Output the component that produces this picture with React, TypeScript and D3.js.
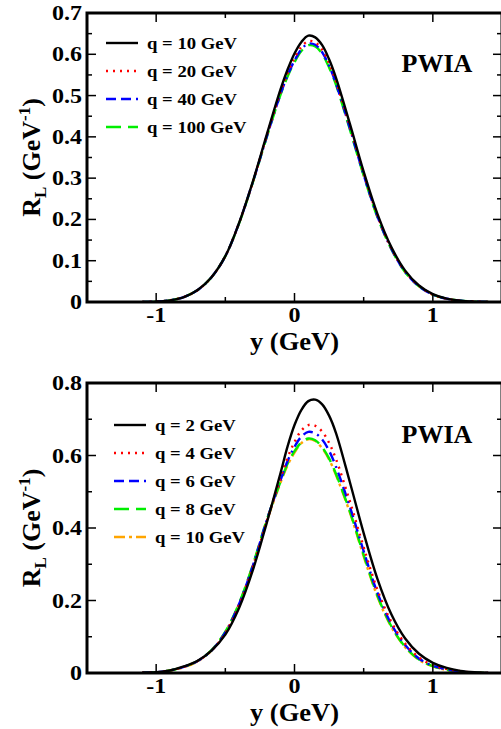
import React from "react";
import * as d3 from "d3";

// ---------- DATA ----------
const yGrid = [-1.1, -1.0, -0.9, -0.8, -0.7, -0.6, -0.5, -0.4, -0.3, -0.2, -0.1, -0.05, 0, 0.05, 0.1, 0.15, 0.2, 0.25, 0.3, 0.4, 0.5, 0.6, 0.7, 0.8, 0.9, 1.0, 1.1, 1.2, 1.3, 1.4];

// top panel (q = 10, 20, 40, 100 GeV)
const topQ10 = [0, 0.001, 0.004, 0.012, 0.029, 0.060, 0.111, 0.192, 0.293, 0.406, 0.516, 0.563, 0.602, 0.630, 0.645, 0.641, 0.622, 0.588, 0.543, 0.432, 0.316, 0.213, 0.133, 0.076, 0.040, 0.019, 0.008, 0.003, 0.001, 0];
const topQ20 = [0, 0.001, 0.004, 0.012, 0.029, 0.060, 0.111, 0.192, 0.292, 0.403, 0.509, 0.554, 0.591, 0.618, 0.632, 0.629, 0.611, 0.578, 0.534, 0.425, 0.311, 0.209, 0.130, 0.074, 0.039, 0.018, 0.008, 0.003, 0.001, 0];
const topQ40 = [0, 0.001, 0.004, 0.012, 0.029, 0.060, 0.111, 0.192, 0.292, 0.401, 0.505, 0.549, 0.585, 0.612, 0.626, 0.623, 0.605, 0.572, 0.529, 0.421, 0.308, 0.207, 0.129, 0.073, 0.038, 0.018, 0.008, 0.003, 0.001, 0];
const topQ100 = [0, 0.001, 0.004, 0.012, 0.029, 0.060, 0.111, 0.191, 0.291, 0.400, 0.503, 0.546, 0.581, 0.608, 0.622, 0.619, 0.601, 0.568, 0.526, 0.418, 0.306, 0.205, 0.128, 0.072, 0.038, 0.018, 0.008, 0.003, 0.001, 0];

// bottom panel (q = 2, 4, 6, 8, 10 GeV)
const botQ2 = [0.001, 0.002, 0.007, 0.018, 0.034, 0.062, 0.106, 0.180, 0.285, 0.415, 0.553, 0.625, 0.684, 0.726, 0.750, 0.754, 0.741, 0.710, 0.662, 0.527, 0.386, 0.259, 0.162, 0.095, 0.053, 0.028, 0.014, 0.006, 0.002, 0];
const botQ4 = [0.001, 0.002, 0.007, 0.017, 0.033, 0.062, 0.110, 0.188, 0.294, 0.420, 0.538, 0.594, 0.637, 0.669, 0.684, 0.682, 0.666, 0.635, 0.590, 0.474, 0.347, 0.229, 0.141, 0.081, 0.043, 0.022, 0.011, 0.005, 0.001, 0];
const botQ6 = [0.001, 0.002, 0.007, 0.017, 0.033, 0.062, 0.112, 0.191, 0.297, 0.422, 0.533, 0.585, 0.624, 0.652, 0.665, 0.661, 0.644, 0.613, 0.569, 0.459, 0.336, 0.221, 0.135, 0.077, 0.040, 0.020, 0.010, 0.004, 0.001, 0];
const botQ8 = [0.001, 0.002, 0.007, 0.017, 0.033, 0.063, 0.114, 0.193, 0.300, 0.423, 0.529, 0.577, 0.612, 0.636, 0.647, 0.642, 0.623, 0.592, 0.549, 0.446, 0.326, 0.213, 0.129, 0.072, 0.037, 0.019, 0.009, 0.003, 0.001, 0];
const botQ10 = [0.001, 0.002, 0.007, 0.016, 0.032, 0.062, 0.113, 0.191, 0.297, 0.419, 0.526, 0.573, 0.608, 0.634, 0.645, 0.640, 0.620, 0.589, 0.546, 0.443, 0.322, 0.210, 0.127, 0.071, 0.036, 0.018, 0.008, 0.003, 0.001, 0];

const topLabels = ["q = 10 GeV", "q = 20 GeV", "q = 40 GeV", "q = 100 GeV"];
const botLabels = ["q = 2 GeV", "q = 4 GeV", "q = 6 GeV", "q = 8 GeV", "q = 10 GeV"];

const xTicks = [-1, 0, 1];
const xMinor = [-1.5, -0.5, 0.5, 1.5];
const topYTicks = [0, 0.1, 0.2, 0.3, 0.4, 0.5, 0.6, 0.7];
const topYMinor = [0.05, 0.15, 0.25, 0.35, 0.45, 0.55, 0.65];
const botYTicks = [0, 0.2, 0.4, 0.6, 0.8];
const botYMinor = [0.1, 0.3, 0.5, 0.7];

// ---------- STYLES ----------
const FONT = "'Liberation Serif', 'Times New Roman', serif";
type Style = { color: string; dash: string; width: number };
const topStyles: Style[] = [
  { color: "#000000", dash: "none", width: 2.4 },
  { color: "#ff0000", dash: "2,5", width: 2.4 },
  { color: "#0000ff", dash: "10,5,10,5,2,5", width: 2.4 },
  { color: "#00ee00", dash: "15,7", width: 2.4 },
];
const botStyles: Style[] = [
  { color: "#000000", dash: "none", width: 2.4 },
  { color: "#ff0000", dash: "2,5", width: 2.4 },
  { color: "#0000ff", dash: "10,5,10,5,2,5", width: 2.4 },
  { color: "#00ee00", dash: "15,7", width: 2.4 },
  { color: "#ffa500", dash: "11,4,3,4", width: 2.4 },
];

const T = (props: { x: number; y: number; sx?: number; size: number; anchor?: string; children: React.ReactNode }) => (
  <g transform={`translate(${props.x},${props.y}) scale(${props.sx ?? 1},1)`}>
    <text x={0} y={0} textAnchor={props.anchor ?? "start"} fontFamily={FONT} fontWeight="bold" fontSize={props.size}>
      {props.children}
    </text>
  </g>
);

type PanelProps = {
  id: string;
  top: number;
  bottom: number;
  yMax: number;
  yTicks: number[];
  yMinor: number[];
  series: number[][];
  labels: string[];
  styles: Style[];
  legendX: number;
  legendY: number;
  pwiaX: number;
  pwiaY: number;
  fmt: (v: number) => string;
};

const Panel = (p: PanelProps) => {
  const left = 87;
  const right = 502;
  const x = d3.scaleLinear().domain([-1.5, 1.5]).range([left, right]);
  const y = d3.scaleLinear().domain([0, p.yMax]).range([p.bottom, p.top]);
  const line = d3
    .line<number>()
    .x((_, i) => x(yGrid[i]))
    .y((d) => y(d))
    .curve(d3.curveCatmullRom.alpha(0.5));
  const major = 9;
  const minor = 5;
  return (
    <g>
      <defs>
        <clipPath id={p.id}>
          <rect x={left} y={p.top} width={right - left} height={p.bottom - p.top} />
        </clipPath>
      </defs>
      <g clipPath={`url(#${p.id})`}>
        {p.series
          .map((s, i) => (
            <path
              key={i}
              d={line(s) || ""}
              fill="none"
              stroke={p.styles[i].color}
              strokeWidth={p.styles[i].width}
              strokeDasharray={p.styles[i].dash}
              strokeLinecap="butt"
            />
          ))
          .reverse()}
      </g>
      {xTicks.map((t) => (
        <g key={"xt" + t}>
          <line x1={x(t)} x2={x(t)} y1={p.bottom} y2={p.bottom - major} stroke="#000" strokeWidth={1.5} />
          <line x1={x(t)} x2={x(t)} y1={p.top} y2={p.top + major} stroke="#000" strokeWidth={1.5} />
          <T x={x(t)} y={p.bottom + 20} sx={1.2} size={20} anchor="middle">
            {String(t)}
          </T>
        </g>
      ))}
      {xMinor.map((t) => (
        <g key={"xm" + t}>
          <line x1={x(t)} x2={x(t)} y1={p.bottom} y2={p.bottom - minor} stroke="#000" strokeWidth={1.5} />
          <line x1={x(t)} x2={x(t)} y1={p.top} y2={p.top + minor} stroke="#000" strokeWidth={1.5} />
        </g>
      ))}
      {p.yTicks.map((t) => (
        <g key={"yt" + t}>
          <line x1={left} x2={left + major} y1={y(t)} y2={y(t)} stroke="#000" strokeWidth={1.5} />
          <line x1={right} x2={right - major} y1={y(t)} y2={y(t)} stroke="#000" strokeWidth={1.5} />
          <T x={left - 5} y={y(t) + 7} sx={1.2} size={20} anchor="end">
            {p.fmt(t)}
          </T>
        </g>
      ))}
      {p.yMinor.map((t) => (
        <g key={"ym" + t}>
          <line x1={left} x2={left + minor} y1={y(t)} y2={y(t)} stroke="#000" strokeWidth={1.5} />
          <line x1={right} x2={right - minor} y1={y(t)} y2={y(t)} stroke="#000" strokeWidth={1.5} />
        </g>
      ))}
      <rect x={left} y={p.top} width={right - left} height={p.bottom - p.top} fill="none" stroke="#000" strokeWidth={3} />
      {p.labels.map((lab, i) => {
        const ly = p.legendY + i * 28;
        return (
          <g key={lab}>
            <line x1={p.legendX} x2={p.legendX + 32} y1={ly} y2={ly} stroke={p.styles[i].color} strokeWidth={p.styles[i].width} strokeDasharray={p.styles[i].dash} />
            <T x={p.legendX + 41} y={ly + 6} sx={1.1} size={17}>
              {lab}
            </T>
          </g>
        );
      })}
      <T x={p.pwiaX} y={p.pwiaY} size={26} anchor="middle">
        PWIA
      </T>
      <T x={x(0)} y={p.bottom + 48} sx={1.06} size={25} anchor="middle">
        y (GeV)
      </T>
      <text
        transform={`translate(40,${(p.top + p.bottom) / 2}) rotate(-90)`}
        textAnchor="middle"
        fontFamily={FONT}
        fontWeight="bold"
        fontSize={26}
      >
        R<tspan fontSize={17} dy={6}>L</tspan>
        <tspan dy={-6}> (GeV</tspan>
        <tspan fontSize={17} dy={-10}>-1</tspan>
        <tspan dy={10}>)</tspan>
      </text>
    </g>
  );
};

export default function App() {
  const fmt = (v: number) => (v === 0 ? "0" : v.toFixed(1));
  return (
    <svg width={501} height={729} style={{ position: "absolute", left: 0, top: 0, background: "#fff" }}>
      <rect width={501} height={729} fill="#fff" />
      <Panel
        id="clipTop"
        top={13}
        bottom={302}
        yMax={0.7}
        yTicks={topYTicks}
        yMinor={topYMinor}
        series={[topQ10, topQ20, topQ40, topQ100]}
        labels={topLabels}
        styles={topStyles}
        legendX={106}
        legendY={43}
        pwiaX={437}
        pwiaY={72}
        fmt={fmt}
      />
      <Panel
        id="clipBot"
        top={383}
        bottom={673}
        yMax={0.8}
        yTicks={botYTicks}
        yMinor={botYMinor}
        series={[botQ2, botQ4, botQ6, botQ8, botQ10]}
        labels={botLabels}
        styles={botStyles}
        legendX={114}
        legendY={425}
        pwiaX={437}
        pwiaY={443}
        fmt={fmt}
      />
    </svg>
  );
}
